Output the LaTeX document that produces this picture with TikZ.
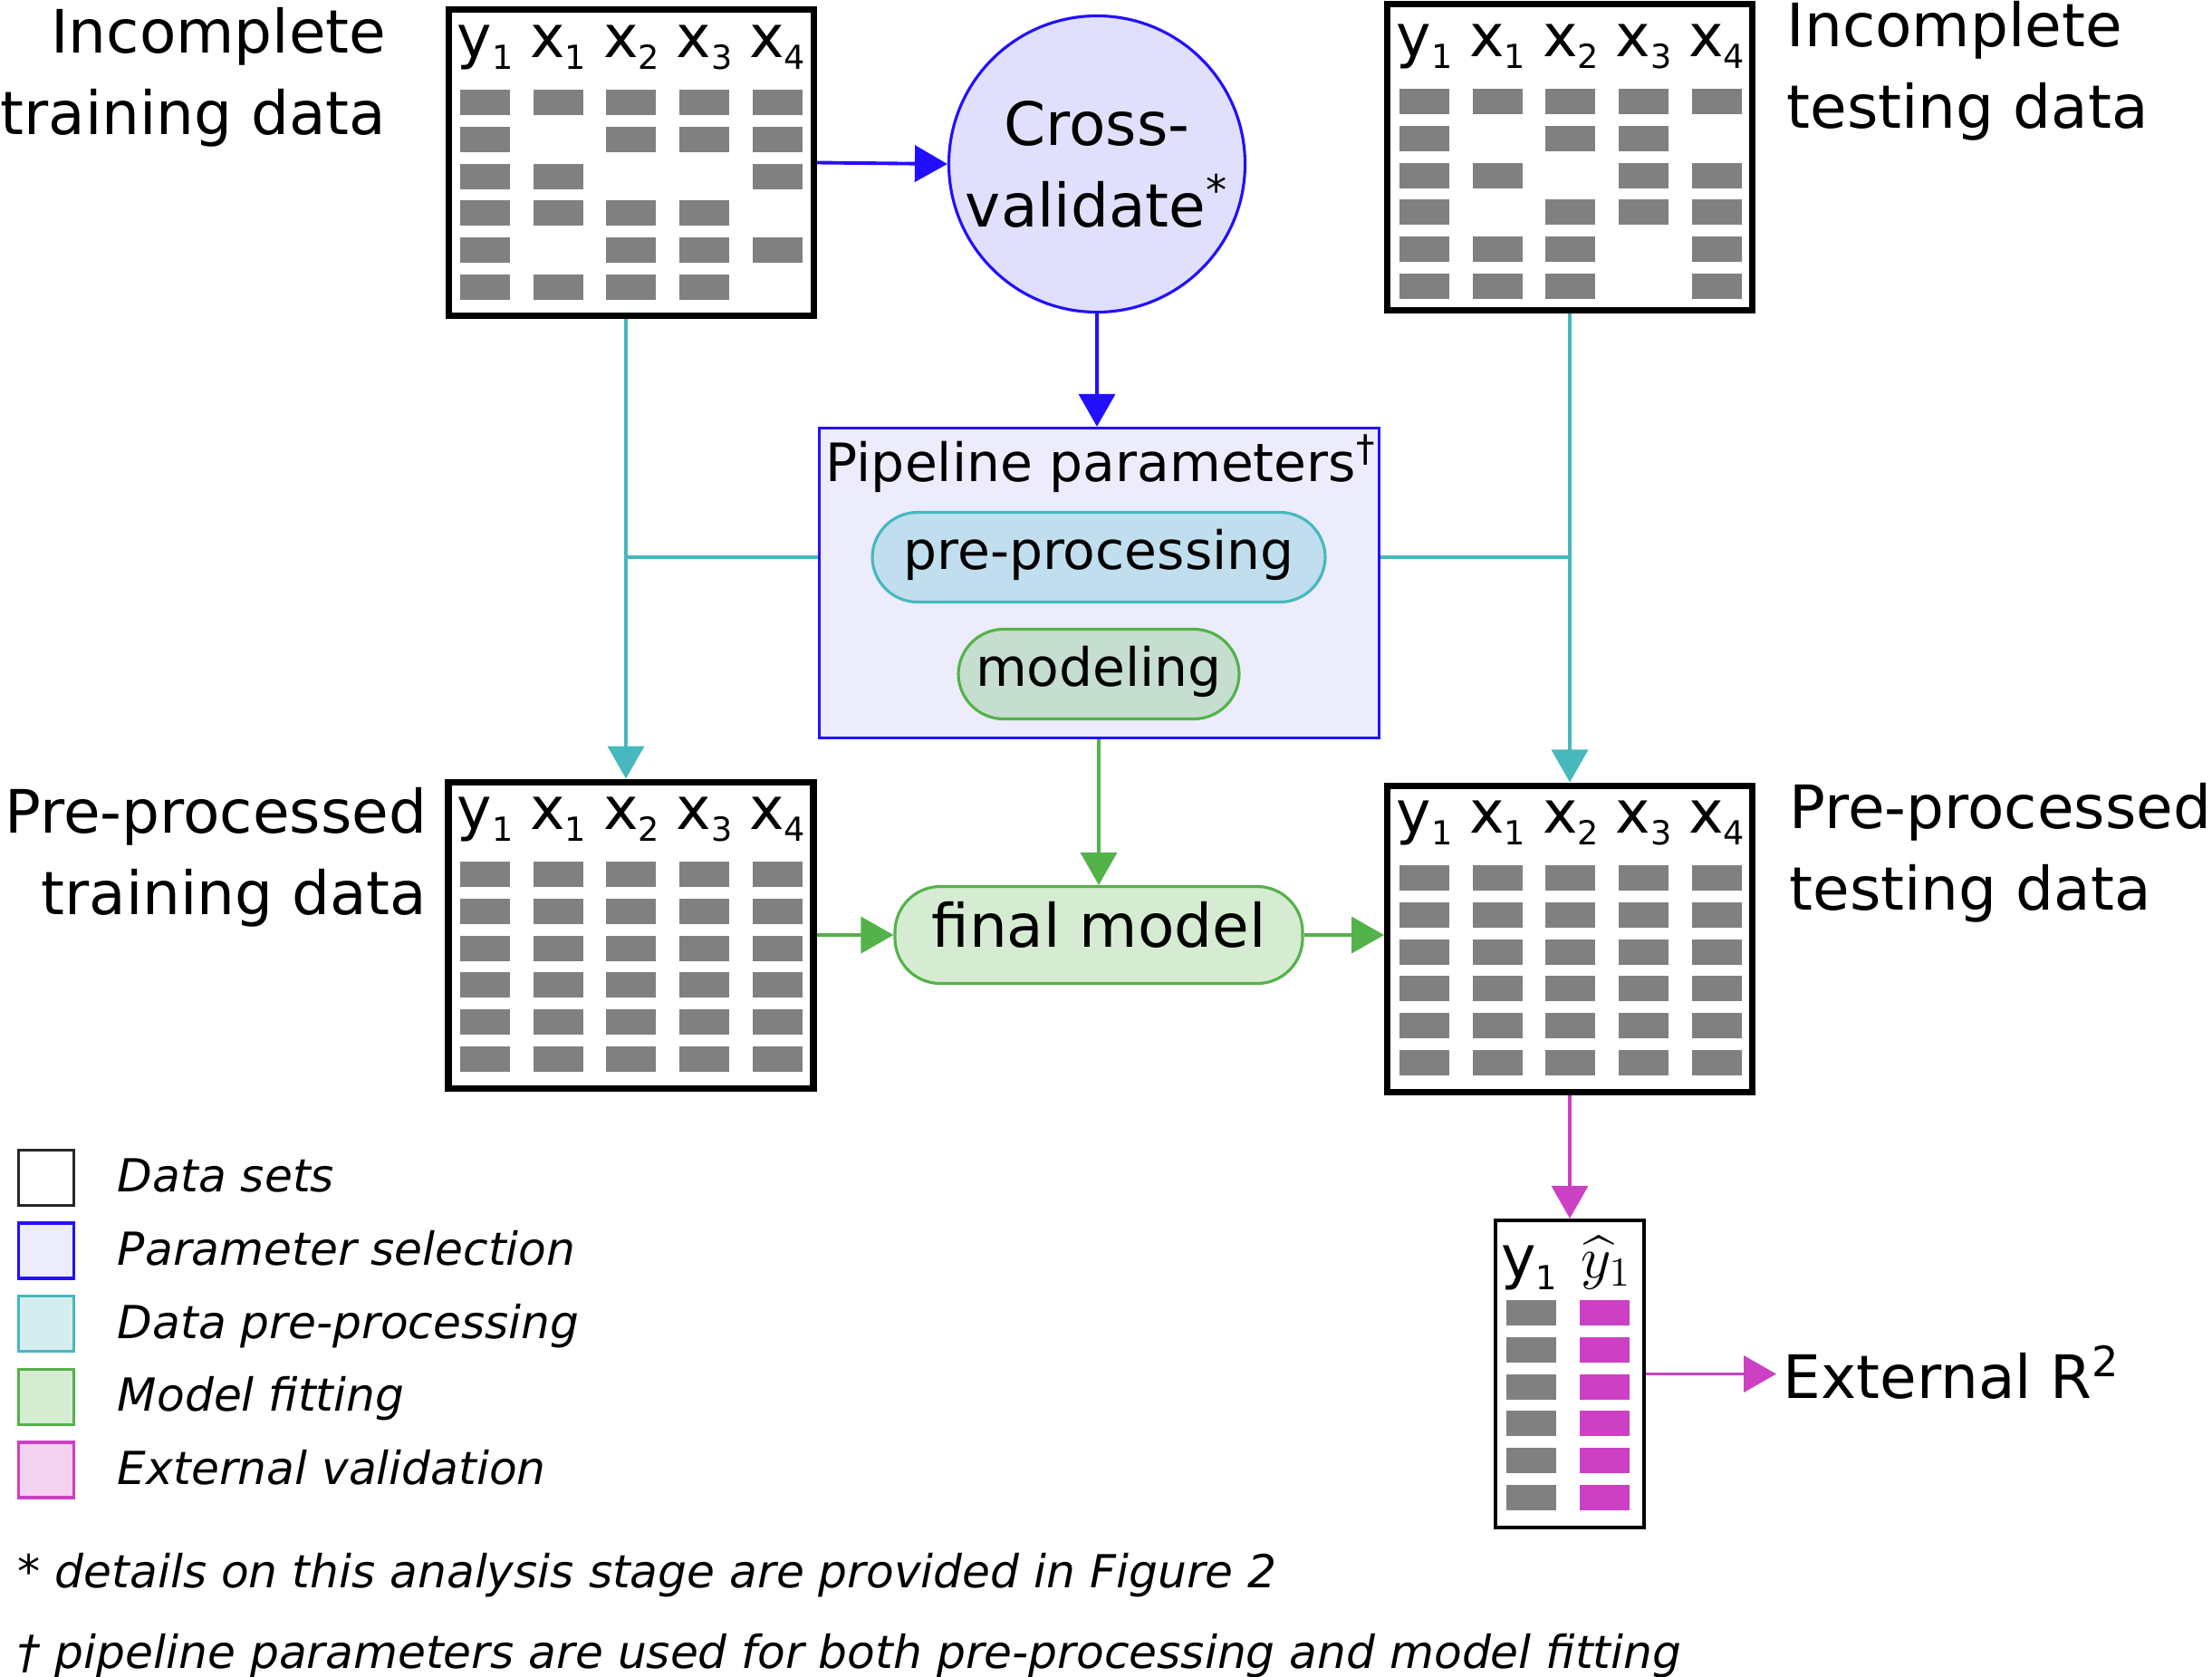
\RequirePackage{fix-cm}
\documentclass[tikz,border=0pt]{standalone}
\usepackage{amsmath}
\usepackage[no-math]{fontspec}
\setmainfont{DejaVu Sans}
\usepackage{tikz}
\usetikzlibrary{arrows.meta, calc, positioning}

\definecolor{lineset}{RGB}{40,40,40}
\definecolor{fillset}{RGB}{255,255,255}
\definecolor{linepar}{RGB}{35,15,255}
\definecolor{fillpar}{RGB}{236,236,252}
\definecolor{cvfill}{RGB}{224,224,252}
\definecolor{linepre}{RGB}{70,184,190}
\definecolor{fillpre}{RGB}{212,237,238}
\definecolor{prenode}{RGB}{193,222,238}
\definecolor{linefit}{RGB}{84,178,74}
\definecolor{fillfit}{RGB}{214,236,210}
\definecolor{modnode}{RGB}{198,222,208}
\definecolor{lineext}{RGB}{204,64,196}
\definecolor{fillext}{RGB}{243,209,240}
\definecolor{cellgray}{RGB}{128,128,128}

\newcommand{\bigfont}{\fontsize{18.8}{25.6}\selectfont}
\newcommand{\headfont}{\fontsize{18.5}{25.6}\selectfont}
\newcommand{\midfont}{\fontsize{16.6}{20}\selectfont}
\newcommand{\smallfont}{\fontsize{14.3}{18}\selectfont\itshape}
\newcommand{\subidx}[1]{\raisebox{-0.2em}{\fontsize{10.4}{10.4}\selectfont #1}}

% header row and grey cells of one data set, #1 = first cell corner
\newcommand{\datagrid}[2]{%
  \foreach \i/\v/\n in {0/y/1,1/x/1,2/x/2,3/x/3,4/x/4}
    \node[headtext] (#1-h\i) at ($(#1)+(\i*0.807+0.275,0.36)$) {\v\subidx{\n}};
  \foreach \r/\cols in {#2}
    \foreach \c in \cols
      \fill[cellgray] ($(#1)+(\c*0.807,-\r*0.408)$) rectangle ++(0.55,-0.28);
}

\tikzset{
  databox/.style={draw=black, line width=2pt, minimum width=4.03cm, minimum height=3.38cm, inner sep=0pt},
  headtext/.style={font=\headfont, inner sep=0pt, anchor=base},
  bigtext/.style={font=\bigfont, inner sep=0pt},
  cvnode/.style={circle, draw=linepar, fill=cvfill, line width=0.9pt, minimum size=3.27cm, inner sep=0pt, align=center, font=\bigfont},
  parbox/.style={draw=linepar, fill=fillpar, line width=0.9pt, minimum width=6.18cm, minimum height=3.42cm, inner sep=0pt},
  pill/.style={rounded corners=0.5cm, line width=0.9pt, inner sep=0pt, text height=0.92em, text depth=0.18em},
  conn/.style={line width=1.1pt, -{Triangle[length=0.36cm, width=0.40cm]}},
  legbox/.style={line width=1pt, minimum size=0.61cm, inner sep=0pt},
  legtext/.style={font=\smallfont, inner sep=0pt, text height=1em, text depth=0.1em}
}

\begin{document}
\begin{tikzpicture}
\useasboundingbox (0,0) rectangle (24.42,-18.50);

% data sets
\node[databox] (trainIn) at (6.97,-1.795) {};
\node[databox] (testIn) at (17.33,-1.735) {};
\node[databox] (trainPre) at (6.965,-10.32) {};
\node[databox] (testPre) at (17.33,-10.36) {};
\coordinate (gTrainIn) at (5.08,-0.99);
\coordinate (gTestIn) at (15.45,-0.98);
\coordinate (gTrainPre) at (5.08,-9.51);
\coordinate (gTestPre) at (15.45,-9.55);
\datagrid{gTrainIn}{0/{0,1,2,3,4},1/{0,2,3,4},2/{0,1,4},3/{0,1,2,3},4/{0,2,3,4},5/{0,1,2,3}}
\datagrid{gTestIn}{0/{0,1,2,3,4},1/{0,2,3},2/{0,1,3,4},3/{0,2,3,4},4/{0,1,2,4},5/{0,1,2,4}}
\datagrid{gTrainPre}{0/{0,...,4},1/{0,...,4},2/{0,...,4},3/{0,...,4},4/{0,...,4},5/{0,...,4}}
\datagrid{gTestPre}{0/{0,...,4},1/{0,...,4},2/{0,...,4},3/{0,...,4},4/{0,...,4},5/{0,...,4}}

\node[bigtext, align=right, anchor=east] (lTrainIn) at (4.27,-0.85) {Incomplete\\training data};
\node[bigtext, align=left, anchor=west] (lTestIn) at (19.72,-0.78) {Incomplete\\testing data};
\node[bigtext, align=right, anchor=east] (lTrainPre) at (4.72,-9.46) {Pre-processed\\training data};
\node[bigtext, align=left, anchor=west] (lTestPre) at (19.75,-9.41) {Pre-processed\\testing data};

% parameter selection
\node[cvnode] (cv) at (12.11,-1.81) {Cross-\\validate\textsuperscript{*}};
\node[parbox] (params) at (12.135,-6.435) {};
\node[font=\midfont, inner sep=0pt, anchor=base] (pptitle) at (12.155,-5.31) {Pipeline parameters\textsuperscript{†}};
\node[pill, draw=linepre, fill=prenode, minimum width=5.00cm, minimum height=0.99cm, font=\midfont] (pre) at (12.13,-6.15) {pre-processing};
\node[pill, draw=linefit, fill=modnode, minimum width=3.10cm, minimum height=0.99cm, font=\midfont] (mod) at (12.13,-7.44) {modeling};
\node[pill, draw=linefit, fill=fillfit, minimum width=4.50cm, minimum height=1.07cm, font=\bigfont] (fm) at (12.13,-10.32) {final model};

% external validation
\node[draw=black, line width=1.2pt, minimum width=1.64cm, minimum height=3.39cm, inner sep=0pt] (res) at (17.33,-15.165) {};
\coordinate (res0) at (16.63,-14.35);
\node[headtext] (resY) at (16.88,-14.10) {y\subidx{1}};
\node[headtext] (resYhat) at (17.73,-14.10) {$\widehat{y}_1$};
\foreach \r in {0,...,5} {
  \fill[cellgray] ($(res0)+(0,-\r*0.408)$) rectangle ++(0.55,-0.28);
  \fill[lineext] ($(res0)+(0.81,-\r*0.408)$) rectangle ++(0.55,-0.28);
}
\node[bigtext, anchor=base west] (ext) at (19.68,-15.43) {External R\textsuperscript{2}};

% connectors
\coordinate (preL) at ([xshift=-0.06cm]trainIn.south);
\draw[conn, linepar] (trainIn.east) -- (cv.west);
\draw[conn, linepar] (cv.south) -- (cv.south |- params.north);
\draw[conn, linepre] (preL) -- (preL |- trainPre.north);
\draw[conn, linepre] (testIn.south) -- (testPre.north);
\draw[line width=1.1pt, linepre] (params.west |- pre) -- (preL |- pre);
\draw[line width=1.1pt, linepre] (params.east |- pre) -- (testIn.south |- pre);
\draw[conn, linefit] (fm.north |- params.south) -- (fm.north);
\draw[conn, linefit] (trainPre.east) -- (fm.west);
\draw[conn, linefit] (fm.east) -- (fm.east -| testPre.west);
\draw[conn, lineext] (testPre.south) -- (res.north);
\draw[conn, lineext] (res.east) -- ([xshift=-0.07cm]res.east -| ext.west);

% legend
\foreach \i/\c/\t in {0/set/Data sets,1/par/Parameter selection,2/pre/Data pre-processing,3/fit/Model fitting,4/ext/External validation} {
  \node[legbox, draw=line\c, fill=fill\c] (leg\i) at (0.51,{-13.00-0.806*\i}) {};
  \node[legtext, right=0.46cm of leg\i] (legt\i) {\t};
}
\node[font=\smallfont, inner sep=0pt, anchor=base west] (note1) at (0.19,-17.52) {* details on this analysis stage are provided in Figure 2};
\node[font=\smallfont, inner sep=0pt, anchor=base west] (note2) at (0.19,-18.41) {† pipeline parameters are used for both pre-processing and model fitting};
\end{tikzpicture}
\end{document}
